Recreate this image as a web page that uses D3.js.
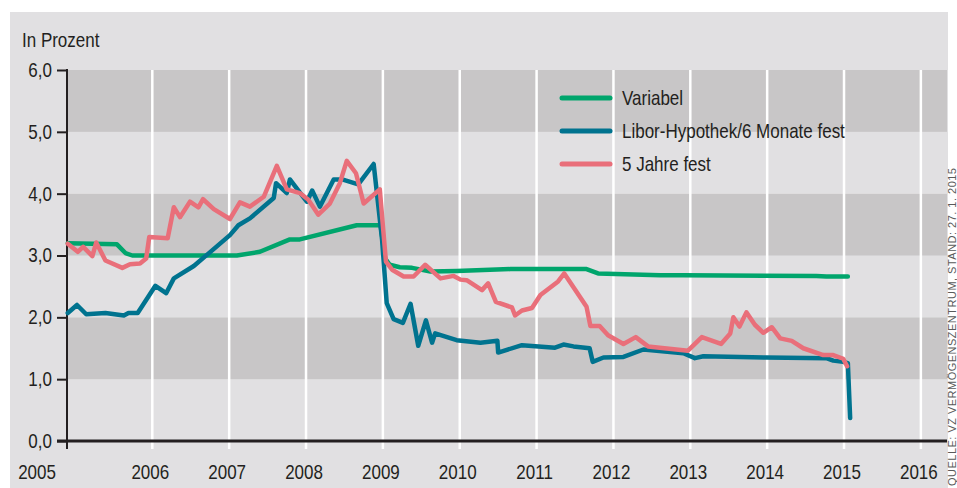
<!DOCTYPE html>
<html>
<head>
<meta charset="utf-8">
<script src="https://cdn.jsdelivr.net/npm/d3@7"></script>
<style>
  body { margin: 0; background: #fff; }
  svg text { font-family: "Liberation Sans", Arial, sans-serif; fill: #231f20; }
</style>
</head>
<body>
<div id="vis"></div>
<script>
// values: [year, percent]
var variabel = [
  [2004.9, 3.20], [2005.54, 3.18], [2005.65, 3.04], [2005.74, 3.00], [2007.10, 3.00],
  [2007.40, 3.06], [2007.79, 3.26], [2007.92, 3.26], [2008.66, 3.49], [2008.97, 3.49],
  [2009.03, 2.95], [2009.09, 2.85], [2009.22, 2.81], [2009.38, 2.80], [2009.62, 2.74],
  [2009.96, 2.75], [2010.66, 2.78], [2011.65, 2.78], [2011.80, 2.71], [2012.61, 2.68],
  [2012.91, 2.68], [2014.64, 2.67], [2014.77, 2.66], [2015.05, 2.66]
];

var libor = [
  [2004.90, 2.07], [2005.02, 2.20], [2005.14, 2.05], [2005.39, 2.07], [2005.63, 2.03],
  [2005.69, 2.07], [2005.81, 2.07], [2006.04, 2.51], [2006.18, 2.39], [2006.28, 2.63],
  [2006.54, 2.83], [2006.71, 3.01], [2007.01, 3.33], [2007.12, 3.49], [2007.27, 3.60],
  [2007.58, 3.93], [2007.61, 4.17], [2007.75, 4.01], [2007.79, 4.23], [2008.01, 3.87],
  [2008.08, 4.05], [2008.18, 3.79], [2008.36, 4.23], [2008.47, 4.23], [2008.68, 4.15],
  [2008.88, 4.48], [2008.99, 3.25], [2009.05, 2.23], [2009.14, 1.97], [2009.26, 1.91],
  [2009.36, 2.22], [2009.46, 1.54], [2009.56, 1.95], [2009.64, 1.59], [2009.68, 1.74],
  [2009.96, 1.63], [2010.27, 1.59], [2010.49, 1.62], [2010.50, 1.43], [2010.81, 1.55],
  [2011.24, 1.51], [2011.35, 1.56], [2011.48, 1.53], [2011.69, 1.50], [2011.73, 1.28],
  [2011.87, 1.35], [2012.13, 1.36], [2012.39, 1.48], [2012.91, 1.42], [2013.06, 1.34],
  [2013.17, 1.37], [2013.99, 1.35], [2014.77, 1.34], [2014.86, 1.30], [2014.99, 1.28],
  [2015.05, 1.26], [2015.08, 0.37]
];

var fest5 = [
  [2004.90, 3.19], [2005.03, 3.06], [2005.10, 3.14], [2005.22, 2.99], [2005.27, 3.21],
  [2005.39, 2.92], [2005.61, 2.80], [2005.71, 2.86], [2005.84, 2.87], [2005.92, 2.95],
  [2005.96, 3.30], [2006.20, 3.28], [2006.28, 3.78], [2006.36, 3.62], [2006.49, 3.87],
  [2006.60, 3.78], [2006.66, 3.91], [2006.80, 3.75], [2007.01, 3.59], [2007.14, 3.86],
  [2007.27, 3.79], [2007.45, 3.95], [2007.62, 4.45], [2007.75, 4.07], [2007.92, 4.01],
  [2008.03, 3.90], [2008.16, 3.66], [2008.31, 3.84], [2008.44, 4.17], [2008.53, 4.53],
  [2008.65, 4.33], [2008.75, 3.84], [2008.96, 4.07], [2009.04, 2.90], [2009.12, 2.77],
  [2009.27, 2.66], [2009.40, 2.66], [2009.55, 2.85], [2009.75, 2.63], [2009.92, 2.67],
  [2010.01, 2.61], [2010.09, 2.60], [2010.29, 2.44], [2010.37, 2.55], [2010.47, 2.25],
  [2010.68, 2.16], [2010.72, 2.03], [2010.81, 2.11], [2010.94, 2.15], [2011.05, 2.36],
  [2011.28, 2.58], [2011.36, 2.71], [2011.65, 2.17], [2011.70, 1.86], [2011.82, 1.86],
  [2011.93, 1.71], [2012.13, 1.57], [2012.29, 1.68], [2012.45, 1.53], [2012.97, 1.46],
  [2013.15, 1.68], [2013.40, 1.57], [2013.52, 1.74], [2013.56, 2.00], [2013.64, 1.85],
  [2013.73, 2.08], [2013.84, 1.88], [2013.95, 1.75], [2014.06, 1.84], [2014.17, 1.66],
  [2014.32, 1.62], [2014.47, 1.50], [2014.73, 1.39], [2014.86, 1.39], [2014.99, 1.33],
  [2015.04, 1.21]
];

var seriesNames = ["Variabel", "Libor-Hypothek/6 Monate fest", "5 Jahre fest"];
var seriesColors = ["#00a56c", "#00738f", "#e96f7a"];
var yearLabels = [2005, 2006, 2007, 2008, 2009, 2010, 2011, 2012, 2013, 2014, 2015, 2016];
var yTicks = [0, 1, 2, 3, 4, 5, 6];
var source = "QUELLE: VZ VERMÖGENSZENTRUM, STAND: 27. 1. 2015";

var W = 957, H = 488;
var narrow = 0.85;   // squeeze Liberation Sans to look like a condensed face

var svg = d3.select("#vis").append("svg")
    .attr("width", W)
    .attr("height", H);

// condensed text helper
function label(parent, px, py, str, size, anchor) {
    return parent.append("g")
        .attr("transform", "translate(" + px + "," + py + ") scale(" + narrow + ",1)")
        .append("text")
        .attr("font-size", size)
        .attr("text-anchor", anchor || "start")
        .text(str);
}

// panel background
svg.append("rect")
    .attr("x", 10).attr("y", 12)
    .attr("width", 938).attr("height", H - 12)
    .attr("fill", "#e1e0e2");

var x = d3.scaleLinear()
    .domain([2004.89, 2016.34])
    .range([67, 947]);

var y = d3.scaleLinear()
    .domain([0, 6])
    .range([441, 70]);

////////// bands //////////
svg.append("g")
    .selectAll("rect")
    .data(yTicks.slice(0, 6))
    .enter()
    .append("rect")
    .attr("x", x.range()[0])
    .attr("width", x.range()[1] - x.range()[0])
    .attr("y", function (d) { return y(d + 1); })
    .attr("height", function (d) { return y(d) - y(d + 1); })
    .attr("fill", function (d) { return d % 2 === 1 ? "#c8c6c7" : "#e1e0e2"; });

////////// gridlines //////////
svg.append("g")
    .selectAll("line")
    .data(yearLabels.slice(1))
    .enter()
    .append("line")
    .attr("x1", function (d) { return x(d); })
    .attr("x2", function (d) { return x(d); })
    .attr("y1", y(6))
    .attr("y2", y(0) + 8)
    .attr("stroke", "#fff")
    .attr("stroke-width", 2.5);

////////// axes //////////
var yAxis = svg.append("g")
    .attr("transform", "translate(" + x.range()[0] + ",0)")
    .call(d3.axisLeft(y)
        .tickValues(yTicks)
        .tickSize(10)
        .tickFormat(function (d) { return d3.format(".1f")(d).replace(".", ","); }));

yAxis.select(".domain").remove();
yAxis.selectAll(".tick line").attr("stroke", "#231f20").attr("stroke-width", 2);
yAxis.selectAll(".tick text")
    .attr("x", -15 / narrow)
    .attr("transform", "scale(" + narrow + ",1)")
    .attr("font-size", 20)
    .attr("fill", "#231f20");

svg.append("line")
    .attr("x1", x.range()[0]).attr("x2", x.range()[0])
    .attr("y1", y(6) - 1).attr("y2", y(0) + 8)
    .attr("stroke", "#231f20").attr("stroke-width", 2);

svg.append("line")
    .attr("x1", x.range()[0] - 10).attr("x2", x.range()[1])
    .attr("y1", y(0)).attr("y2", y(0))
    .attr("stroke", "#231f20").attr("stroke-width", 3);

var xLabels = svg.append("g");
yearLabels.forEach(function (d) {
    label(xLabels, d === 2005 ? x(2004.5) : x(d) - 2, 479, d, 20, "middle");
});

label(svg, 22, 47, "In Prozent", 20);

////////// lines //////////
var line = d3.line()
    .x(function (d) { return x(d[0]); })
    .y(function (d) { return y(d[1]); });

[variabel, libor, fest5].forEach(function (data, i) {
    svg.append("path")
        .datum(data)
        .attr("fill", "none")
        .attr("stroke", seriesColors[i])
        .attr("stroke-width", 4.5)
        .attr("stroke-linejoin", "round")
        .attr("stroke-linecap", "round")
        .attr("d", line);
});

////////// legend //////////
var legend = svg.append("g")
    .attr("transform", "translate(562,98)");

seriesNames.forEach(function (name, i) {
    legend.append("line")
        .attr("x1", 0).attr("x2", 48)
        .attr("y1", i * 33).attr("y2", i * 33)
        .attr("stroke", seriesColors[i])
        .attr("stroke-width", 5)
        .attr("stroke-linecap", "round");
    label(legend, 60, i * 33 + 7, name, 20);
});

////////// source //////////
svg.append("text")
    .attr("transform", "translate(956,486) rotate(-90)")
    .attr("font-size", 11)
    .style("fill", "#5a5a5a")
    .attr("textLength", 318)
    .attr("lengthAdjust", "spacing")
    .text(source);
</script>
</body>
</html>
